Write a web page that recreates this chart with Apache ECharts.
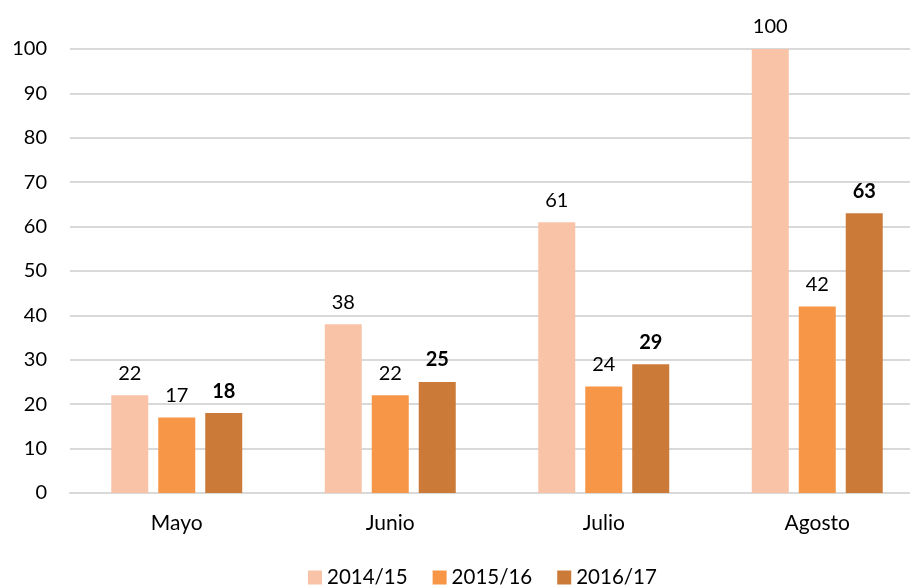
<!DOCTYPE html>
<html><head><meta charset="utf-8">
<script src="https://cdn.jsdelivr.net/npm/echarts@6/dist/echarts.min.js"></script>
<style>html,body{margin:0;padding:0;background:#fff}#c{width:910px;height:588px}</style>
</head><body><div id="c"></div>
<script>
const categories = ['Mayo', 'Junio', 'Julio', 'Agosto'];
const seriesNames = ['2014/15', '2015/16', '2016/17'];
const s2014 = [22, 38, 61, 100];
const s2015 = [17, 22, 24, 42];
const s2016 = [18, 25, 29, 63];
const yTicks = { min: 0, max: 100, interval: 10 };

const colors = ['#F9C3A8', '#F79646', '#CC7A38'];
const FONT = 'Lato';
function mk(name, data, i, bold) {
  return {
    name: name, type: 'bar', data: data,
    barWidth: 37, barGap: '27%',
    itemStyle: { color: colors[i] },
    label: { show: true, position: 'top', distance: 12, color: '#000',
      fontFamily: FONT, fontSize: 20, fontWeight: bold ? 'bold' : 'normal' }
  };
}
const chart = echarts.init(document.getElementById('c'));
chart.setOption({
  animation: false,
  textStyle: { fontFamily: FONT },
  grid: { left: 70, width: 854, top: 49, bottom: 95, outerBoundsMode: 'none', containLabel: false },
  legend: {
    data: seriesNames, bottom: -5, left: 303,
    itemWidth: 14, itemHeight: 14, itemGap: 25, icon: 'rect',
    textStyle: { fontFamily: FONT, fontSize: 20.5, color: '#000' }
  },
  xAxis: {
    type: 'category', data: categories,
    axisLine: { lineStyle: { color: '#d9d9d9', width: 2 } },
    axisTick: { show: false },
    axisLabel: { margin: 20, fontFamily: FONT, fontSize: 21, color: '#000' }
  },
  yAxis: {
    type: 'value', min: yTicks.min, max: yTicks.max, interval: yTicks.interval,
    axisLine: { show: false }, axisTick: { show: false },
    splitLine: { lineStyle: { color: '#d9d9d9', width: 2 } },
    axisLabel: { margin: 23, fontFamily: FONT, fontSize: 20, color: '#000' }
  },
  series: [mk(seriesNames[0], s2014, 0, false), mk(seriesNames[1], s2015, 1, false), mk(seriesNames[2], s2016, 2, true)]
});
</script></body></html>
